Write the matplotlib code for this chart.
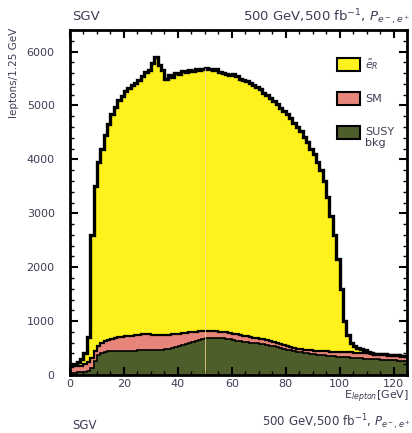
import numpy as np
import matplotlib
matplotlib.use("Agg")
import matplotlib.pyplot as plt
from matplotlib.patches import Rectangle

# ---------------- data (1.25 GeV wide bins from 0 to 125 GeV) ----------------
bin_edges = np.linspace(0, 125, 101)

susy_bkg = [40, 40, 50, 50, 55, 70, 130, 260, 380, 410,
            430, 440, 440, 445, 445, 445, 440, 450, 450, 445,
            455, 455, 460, 460, 465, 460, 465, 470, 475, 490,
            505, 520, 535, 555, 580, 600, 620, 640, 655, 670,
            680, 690, 690, 690, 685, 680, 675, 665, 650, 635,
            625, 615, 610, 600, 595, 585, 580, 570, 560, 545,
            530, 515, 500, 485, 470, 455, 445, 435, 425, 415,
            405, 395, 388, 380, 372, 365, 358, 350, 347, 342,
            338, 332, 328, 322, 318, 312, 308, 303, 300, 297,
            292, 288, 285, 280, 277, 272, 270, 266, 262, 258]

sm_plus_susy = [155, 165, 170, 175, 210, 250, 320, 450, 540, 600,
                630, 650, 670, 685, 700, 705, 715, 720, 725, 735,
                745, 755, 760, 755, 745, 740, 735, 735, 740, 750,
                755, 760, 765, 775, 780, 790, 795, 800, 810, 815,
                820, 818, 812, 808, 800, 795, 790, 780, 765, 752,
                740, 728, 715, 705, 695, 685, 675, 665, 650, 635,
                615, 595, 575, 555, 535, 520, 505, 490, 478, 468,
                460, 455, 448, 444, 440, 438, 436, 433, 430, 428,
                425, 423, 420, 418, 415, 412, 410, 407, 404, 400,
                396, 392, 388, 383, 378, 373, 368, 362, 356, 350]

total = [190, 210, 240, 300, 400, 700, 2600, 3500, 3950, 4200,
         4450, 4650, 4850, 4980, 5100, 5180, 5260, 5320, 5380, 5420,
         5480, 5540, 5620, 5660, 5780, 5900, 5760, 5650, 5500, 5560,
         5520, 5600, 5580, 5640, 5620, 5660, 5640, 5680, 5660, 5670,
         5700, 5680, 5650, 5670, 5620, 5600, 5590, 5570, 5580, 5540,
         5500, 5470, 5450, 5410, 5380, 5340, 5300, 5240, 5190, 5130,
         5080, 5020, 4960, 4900, 4840, 4760, 4680, 4600, 4520, 4420,
         4320, 4200, 4100, 3950, 3800, 3600, 3300, 2950, 2600, 2150,
         1600, 1000, 750, 600, 540, 500, 480, 460, 430, 410,
         396, 392, 388, 383, 378, 373, 368, 362, 356, 350]

susy_bkg = np.array(susy_bkg, float)
sm = np.array(sm_plus_susy, float) - susy_bkg
signal = np.clip(np.array(total, float) - np.array(sm_plus_susy, float), 0, None)

legend_labels = [r"$\tilde{e}_{R}$", "SM", "SUSY\nbkg"]
x_ticks = [0, 20, 40, 60, 80, 100, 120]
y_ticks = [0, 1000, 2000, 3000, 4000, 5000, 6000]

# ---------------- style ----------------
c_sig = "#fff21c"
c_sm = "#e8857a"
c_susy = "#4e5e2a"
txt = "#3d3d55"

plt.rcParams["font.family"] = ["DejaVu Sans"]

W, H = 412, 433
fig = plt.figure(figsize=(W / 100, H / 100), dpi=100)
L, R, T, B = 70, 407, 30, 375
ax = fig.add_axes([L / W, 1 - B / H, (R - L) / W, (B - T) / H])

lvl1 = susy_bkg
lvl2 = susy_bkg + sm
lvl3 = lvl2 + signal

ax.stairs(lvl1, bin_edges, baseline=0, fill=True, color=c_susy, lw=0)
ax.stairs(lvl2, bin_edges, baseline=lvl1, fill=True, color=c_sm, lw=0)
ax.stairs(lvl3, bin_edges, baseline=lvl2, fill=True, color=c_sig, lw=0)

# faint artefact line at 50 GeV
i50 = 40
ax.vlines(bin_edges[i50], 0, lvl3[i50], color="#f0d890", lw=0.7, alpha=0.8)

ax.stairs(lvl1, bin_edges, baseline=None, color="black", lw=1.2)
ax.stairs(lvl2, bin_edges, baseline=None, color="black", lw=1.6)
ax.stairs(lvl3, bin_edges, baseline=None, color="black", lw=2.4)

ax.set_xlim(0, 125)
ax.set_ylim(0, 6400)
ax.set_xticks(x_ticks)
ax.set_yticks(y_ticks)
ax.set_xticks(np.arange(0, 126, 5), minor=True)
ax.set_yticks(np.arange(0, 6401, 200), minor=True)
ax.tick_params(which="both", direction="in", top=True, right=True, colors="black",
               labelcolor=txt, labelsize=8)
ax.tick_params(axis="y", which="major", length=6, width=1.5, pad=11)
ax.tick_params(axis="x", which="major", length=6, width=1.5, pad=3)
ax.tick_params(which="minor", length=3, width=1.0)
for s in ax.spines.values():
    s.set_linewidth(2.0)

# legend (manual)
colors = [c_sig, c_sm, c_susy]
box_tops = [58, 92, 126]
for col, top, lab in zip(colors, box_tops, legend_labels):
    x0 = (337 - L) / (R - L)
    w = 23 / (R - L)
    h = 13 / (B - T)
    y0 = 1 - (top + 13 - T) / (B - T)
    ax.add_patch(Rectangle((x0, y0), w, h, transform=ax.transAxes,
                           facecolor=col, edgecolor="black", lw=1.5, zorder=5))
    if "\n" in lab:
        ax.text((365 - L) / (R - L), 1 - (top + 1 - T) / (B - T), lab,
                transform=ax.transAxes, ha="left", va="top",
                fontsize=8, color=txt, linespacing=1.1, zorder=5)
    else:
        ax.text((365 - L) / (R - L), 1 - (top + 6.5 - T) / (B - T), lab,
                transform=ax.transAxes, ha="left", va="center",
                fontsize=8, color=txt, zorder=5)

# texts
head = r"500 GeV,500 fb$^{-1}$, $P_{e^-,e^+}$"
fig.text(72 / W, 1 - 17 / H, "SGV", ha="left", va="center", fontsize=9.5, color=txt)
fig.text(411 / W, 1 - 17 / H, head, ha="right", va="center", fontsize=9.5, color=txt)
fig.text(72 / W, 1 - 432 / H, "SGV", ha="left", va="bottom", fontsize=8.5, color=txt)
fig.text(411 / W, 1 - 432 / H, head, ha="right", va="bottom", fontsize=8.5, color=txt)
fig.text(409 / W, 1 - 397 / H, r"E$_{lepton}$[GeV]", ha="right", va="center",
         fontsize=8, color=txt)
fig.text(14 / W, 1 - 28 / H, "leptons/1.25 GeV", rotation=90, ha="center", va="top",
         fontsize=7.5, color=txt)

fig.savefig("out.png", dpi=100)
